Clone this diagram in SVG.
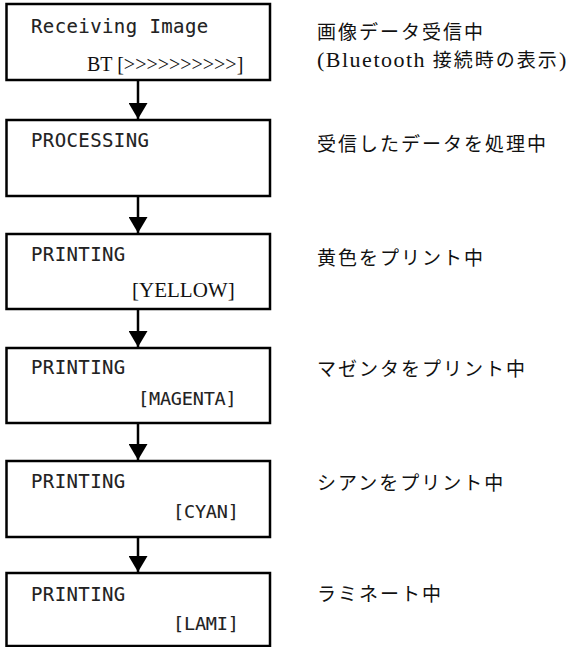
<svg xmlns="http://www.w3.org/2000/svg" width="573" height="647" viewBox="0 0 573 647">
<style>
.box{fill:#fff;stroke:#000;stroke-width:2.5}
.mono{font-family:"DejaVu Sans Mono","Liberation Mono",monospace;font-size:19px;letter-spacing:0.4px;fill:#222;stroke:#222;stroke-width:0.1}
.mono2{font-family:"DejaVu Sans Mono","Liberation Mono",monospace;font-size:18.5px;letter-spacing:-0.2px;fill:#222;stroke:#222;stroke-width:0.1}
.ser{font-family:"Liberation Serif",serif;font-size:20px;fill:#111}
.jp{font-family:"Liberation Serif","Noto Sans CJK JP",serif;font-size:19px;letter-spacing:2px;fill:#111}
.lat{font-size:22px;letter-spacing:1.5px}
.conn line{stroke:#000;stroke-width:2.5}
</style>
<defs>
<marker id="ah" viewBox="0 0 16 19" refX="16" refY="9.5" markerWidth="16" markerHeight="19" markerUnits="userSpaceOnUse" orient="auto">
<path d="M0,0 L16,9.5 L0,19 Z" fill="#000"/>
</marker>
</defs>
<g id="connectors" class="conn">
<line x1="138" y1="81" x2="138" y2="119" marker-end="url(#ah)"/>
<line x1="138" y1="197" x2="138" y2="233" marker-end="url(#ah)"/>
<line x1="138" y1="310" x2="138" y2="347" marker-end="url(#ah)"/>
<line x1="138" y1="424" x2="138" y2="460" marker-end="url(#ah)"/>
<line x1="138" y1="538" x2="138" y2="572" marker-end="url(#ah)"/>
</g>
<g id="n1">
<rect class="box" x="6.5" y="4" width="263.5" height="76"/>
<text class="mono" x="31" y="33">Receiving Image</text>
<text class="ser" x="87" y="71">BT [&gt;&gt;&gt;&gt;&gt;&gt;&gt;&gt;&gt;&gt;]</text>
</g>
<g id="n2">
<rect class="box" x="6.5" y="120" width="263.5" height="76"/>
<text class="mono" x="31" y="147">PROCESSING</text>
</g>
<g id="n3">
<rect class="box" x="6.5" y="234" width="263.5" height="75"/>
<text class="mono" x="31" y="261">PRINTING</text>
<text class="ser" x="132" y="297" style="font-size:21px">[YELLOW]</text>
</g>
<g id="n4">
<rect class="box" x="6.5" y="348" width="263.5" height="75"/>
<text class="mono" x="31" y="374">PRINTING</text>
<text class="mono2" x="138" y="405">[MAGENTA]</text>
</g>
<g id="n5">
<rect class="box" x="6.5" y="461" width="263.5" height="76"/>
<text class="mono" x="31" y="488">PRINTING</text>
<text class="mono2" x="173" y="518">[CYAN]</text>
</g>
<g id="n6">
<rect class="box" x="6.5" y="573" width="263.5" height="73"/>
<text class="mono" x="31" y="601">PRINTING</text>
<text class="mono2" x="173" y="630">[LAMI]</text>
</g>
<g id="desc">
<text class="jp" x="317" y="39">画像データ受信中</text>
<text class="jp" x="317" y="67"><tspan class="lat">(Bluetooth</tspan> 接続時の表示<tspan class="lat">)</tspan></text>
<text class="jp" x="317" y="151">受信したデータを処理中</text>
<text class="jp" x="317" y="265">黄色をプリント中</text>
<text class="jp" x="317" y="376">マゼンタをプリント中</text>
<text class="jp" x="317" y="490">シアンをプリント中</text>
<text class="jp" x="317" y="601">ラミネート中</text>
</g>
</svg>
